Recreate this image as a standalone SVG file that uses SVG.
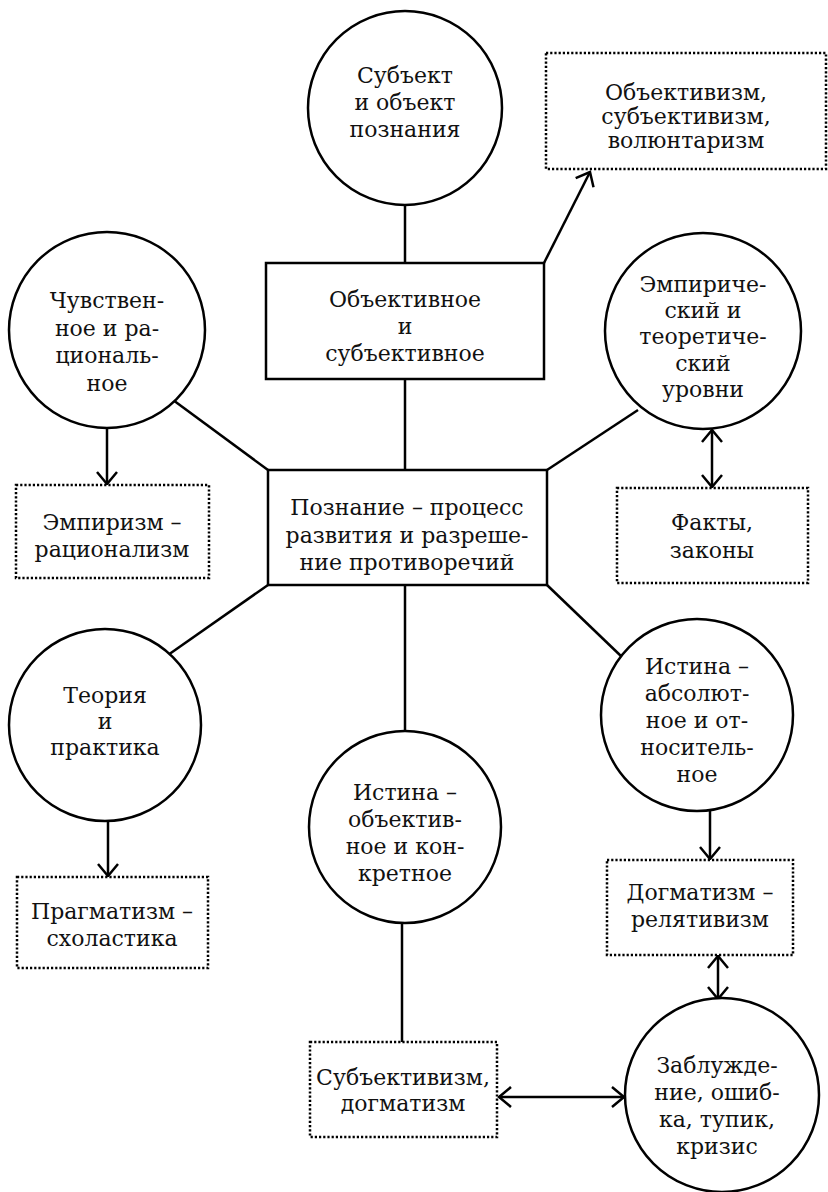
<svg xmlns="http://www.w3.org/2000/svg" width="828" height="1192" viewBox="0 0 828 1192">
<style>
.c{fill:#fff;stroke:#000;stroke-width:2.5}
.b{fill:#fff;stroke:#000;stroke-width:2.5}
.d{fill:#fff;stroke:#000;stroke-width:2.5;stroke-dasharray:2.2 2}
.l{stroke:#000;stroke-width:2.5;fill:none}
text{font-family:"DejaVu Serif","Liberation Serif",serif;font-size:22px;fill:#111;text-anchor:middle}
</style>
<defs>
<marker id="ah" markerUnits="userSpaceOnUse" markerWidth="16" markerHeight="24" refX="13" refY="11" orient="auto-start-reverse" viewBox="0 0 16 24">
<path d="M1,1 L13,11 L1,21" fill="none" stroke="#000" stroke-width="2.5"/>
</marker>
</defs>
<rect width="828" height="1192" fill="#fff"/>
<g id="connectors">
<line class="l" x1="405" y1="205" x2="405" y2="263"/>
<line class="l" x1="405" y1="379" x2="405" y2="470"/>
<line class="l" x1="544" y1="263" x2="590" y2="172" marker-end="url(#ah)"/>
<line class="l" x1="173" y1="400" x2="268" y2="470"/>
<line class="l" x1="638" y1="410" x2="547" y2="470"/>
<line class="l" x1="168" y1="655" x2="268" y2="585"/>
<line class="l" x1="622" y1="657" x2="547" y2="585"/>
<line class="l" x1="405" y1="585" x2="405" y2="731"/>
<line class="l" x1="402" y1="923" x2="402" y2="1042"/>
<line class="l" x1="107" y1="428" x2="107" y2="484" marker-end="url(#ah)"/>
<line class="l" x1="712" y1="430" x2="712" y2="487" marker-start="url(#ah)" marker-end="url(#ah)"/>
<line class="l" x1="108" y1="821" x2="108" y2="876" marker-end="url(#ah)"/>
<line class="l" x1="710" y1="811" x2="710" y2="859" marker-end="url(#ah)"/>
<line class="l" x1="718" y1="956" x2="718" y2="999" marker-start="url(#ah)" marker-end="url(#ah)"/>
<line class="l" x1="499" y1="1097" x2="624" y2="1097" marker-start="url(#ah)" marker-end="url(#ah)"/>
</g>
<g id="nA"><circle class="c" cx="405" cy="108" r="97"/>
<text x="405" y="83">Субъект</text><text x="405" y="110">и объект</text><text x="405" y="137">познания</text></g>
<g id="nB"><rect class="d" x="546" y="53" width="280" height="116"/>
<text x="686" y="100">Объективизм,</text><text x="686" y="124">субъективизм,</text><text x="686" y="148">волюнтаризм</text></g>
<g id="nC"><rect class="b" x="266" y="263" width="278" height="116"/>
<text x="405" y="307">Объективное</text><text x="405" y="334">и</text><text x="405" y="361">субъективное</text></g>
<g id="nD"><rect class="b" x="268" y="470" width="279" height="115"/>
<text x="407" y="515">Познание – процесс</text><text x="407" y="543">развития и разреше-</text><text x="407" y="570">ние противоречий</text></g>
<g id="nE"><circle class="c" cx="107" cy="330" r="98"/>
<text x="107" y="308">Чувствен-</text><text x="107" y="336">ное и ра-</text><text x="107" y="363">циональ-</text><text x="107" y="391">ное</text></g>
<g id="nF"><rect class="d" x="16" y="485" width="193" height="93"/>
<text x="112" y="530">Эмпиризм –</text><text x="112" y="557">рационализм</text></g>
<g id="nG"><circle class="c" cx="703" cy="331" r="98"/>
<text x="703" y="292">Эмпириче-</text><text x="703" y="318">ский и</text><text x="703" y="344">теоретиче-</text><text x="703" y="371">ский</text><text x="703" y="397">уровни</text></g>
<g id="nH"><rect class="d" x="617" y="488" width="191" height="95"/>
<text x="712" y="530">Факты,</text><text x="712" y="558">законы</text></g>
<g id="nI"><circle class="c" cx="105" cy="725" r="96"/>
<text x="105" y="703">Теория</text><text x="105" y="729">и</text><text x="105" y="755">практика</text></g>
<g id="nJ"><rect class="d" x="17" y="877" width="191" height="91"/>
<text x="112" y="919">Прагматизм –</text><text x="112" y="946">схоластика</text></g>
<g id="nK"><circle class="c" cx="697" cy="715" r="96"/>
<text x="697" y="674">Истина –</text><text x="697" y="701">абсолют-</text><text x="697" y="728">ное и от-</text><text x="697" y="755">носитель-</text><text x="697" y="782">ное</text></g>
<g id="nL"><rect class="d" x="607" y="860" width="186" height="95"/>
<text x="700" y="900">Догматизм –</text><text x="700" y="927">релятивизм</text></g>
<g id="nM"><circle class="c" cx="722" cy="1095" r="97"/>
<text x="717" y="1073">Заблужде-</text><text x="717" y="1100">ние, ошиб-</text><text x="717" y="1127">ка, тупик,</text><text x="717" y="1154">кризис</text></g>
<g id="nN"><circle class="c" cx="405" cy="827" r="96"/>
<text x="405" y="800">Истина –</text><text x="405" y="827">объектив-</text><text x="405" y="854">ное и кон-</text><text x="405" y="881">кретное</text></g>
<g id="nO"><rect class="d" x="310" y="1042" width="187" height="95"/>
<text x="403" y="1085">Субъективизм,</text><text x="403" y="1111">догматизм</text></g>
</svg>
